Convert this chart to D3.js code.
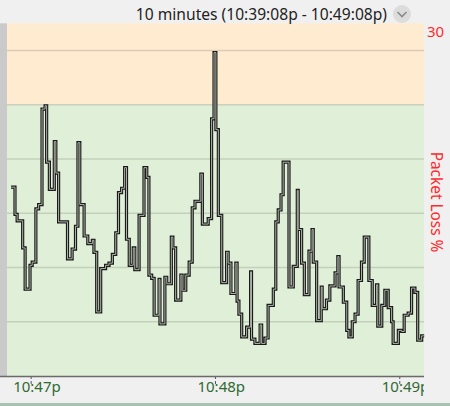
<!DOCTYPE html>
<html lang="en">
<head>
  <meta charset="UTF-8">
  <title>Packet Loss</title>
  <style>
    body {
      margin: 0;
      background: #f0f0f0;
      font-family: "Noto Sans", "Open Sans", sans-serif;
    }
  </style>
</head>
<body>

<script src="https://d3js.org/d3.v7.min.js"></script>
<script>
  // step start times, seconds from 10:47:00p
  const times = [
    -6.4, -5.1, -4.4, -2.6, -1.8, -0.2, 0.5, 1.7, 2.6, 3.7,
    4.7, 5.2, 6.1, 7.7, 8.2, 9.1, 12.0, 13.5, 14.6, 15.4,
    16.0, 17.4, 18.6, 20.1, 20.6, 21.5, 22.8, 24.4, 25.5, 26.6,
    27.7, 28.6, 29.6, 30.6, 31.2, 32.1, 33.4, 33.9, 35.3, 36.9,
    37.8, 38.5, 39.4, 40.2, 41.8, 42.1, 43.7, 44.3, 45.8, 46.3,
    47.2, 48.9, 49.3, 50.5, 51.6, 52.6, 53.5, 55.4, 55.9, 57.8,
    58.9, 59.7, 60.3, 61.1, 62.2, 63.8, 64.3, 65.2, 66.8, 67.2,
    67.8, 68.7, 70.3, 71.6, 71.9, 73.0, 74.7, 75.2, 76.3, 77.3,
    79.0, 79.8, 80.6, 81.5, 82.2, 84.1, 85.5, 86.8, 87.1, 88.2,
    89.1, 90.6, 91.6, 92.0, 93.1, 94.6, 94.9, 96.3, 97.4, 99.1,
    100.0, 100.4, 101.8, 102.9, 103.6, 104.7, 105.6, 106.6, 107.7, 108.6,
    110.1, 111.2, 112.6, 113.0, 114.3, 115.3, 116.4, 117.5, 118.0, 119.7,
    120.8, 121.6, 122.9, 124.0, 125.1, 126.0, 127.3, 128.1
  ];
  // packet loss %
  const loss = [
    17.4, 14.9, 14.3, 11.8, 8.0, 10.2, 10.5, 15.4, 15.8, 24.6,
    24.9, 19.7, 17.2, 21.6, 18.7, 14.2, 10.8, 11.7, 13.8, 21.5,
    15.8, 12.9, 12.2, 12.5, 11.4, 5.9, 9.9, 10.2, 10.4, 11.2,
    13.2, 16.9, 17.3, 19.2, 12.6, 10.2, 11.8, 9.8, 14.8, 19.2,
    18.3, 9.3, 9.0, 5.6, 8.9, 4.8, 9.1, 8.5, 12.8, 11.8,
    7.0, 9.3, 7.9, 9.3, 10.5, 15.5, 16.1, 18.6, 14.0, 14.5,
    23.7, 29.8, 22.7, 14.8, 8.6, 11.4, 10.4, 7.6, 10.4, 6.9,
    5.7, 3.6, 4.5, 9.6, 3.4, 3.0, 4.7, 3.0, 3.5, 6.5,
    8.0, 14.2, 15.3, 16.7, 19.7, 8.2, 10.1, 17.1, 13.5, 10.4,
    7.5, 11.5, 13.5, 10.5, 5.1, 8.2, 6.2, 7.0, 8.3, 9.5,
    11.0, 8.2, 6.8, 4.2, 3.6, 5.0, 5.7, 8.8, 10.5, 12.8,
    8.8, 6.5, 8.4, 4.6, 6.5, 7.9, 6.3, 5.0, 3.0, 4.2,
    4.1, 5.6, 5.8, 8.1, 7.7, 3.3, 3.7, 3.7
  ];
  const gridValues = [5, 10, 15, 20, 25, 30];
  const warnLevel = 25;
  const yMax = 32.5;
  const topLabel = '30';
  const titleText = '10 minutes (10:39:08p - 10:49:08p)';

  const width = 450;
  const height = 406;
  const plot = { left: 7, right: 424, top: 23.3, bottom: 376 };

  const base = new Date(2024, 0, 1, 22, 47, 0);
  const toDate = s => new Date(base.getTime() + s * 1000);
  const data = times.map((t, i) => ({ t: toDate(t), v: loss[i] }));

  const svg = d3.select('body')
    .append('svg')
    .attr('width', width)
    .attr('height', height)
    .style('display', 'block');

  const x = d3.scaleTime()
    .domain([toDate(-7.7), toDate(128.05)])
    .range([plot.left, plot.right]);

  const y = d3.scaleLinear()
    .domain([0, yMax])
    .range([plot.bottom, plot.top]);

  // zones
  svg.append('rect')
    .attr('x', plot.left).attr('y', y(yMax))
    .attr('width', plot.right - plot.left).attr('height', y(warnLevel) - y(yMax))
    .attr('fill', '#feebd0');
  svg.append('rect')
    .attr('x', plot.left).attr('y', y(warnLevel))
    .attr('width', plot.right - plot.left).attr('height', y(0) - y(warnLevel))
    .attr('fill', '#e0efd7');

  // left grey strip
  svg.append('rect')
    .attr('x', 0).attr('y', plot.top)
    .attr('width', plot.left).attr('height', plot.bottom - plot.top)
    .attr('fill', '#cacaca');

  // grid
  svg.append('g')
    .selectAll('line')
    .data(gridValues)
    .enter()
    .append('line')
    .attr('x1', plot.left).attr('x2', plot.right)
    .attr('y1', d => y(d)).attr('y2', d => y(d))
    .attr('stroke', 'rgba(0,0,0,0.13)')
    .attr('stroke-width', 1.6);

  // step line
  const line = d3.line()
    .x(d => x(d.t))
    .y(d => y(d.v))
    .curve(d3.curveStepAfter);

  svg.append('path')
    .datum(data)
    .attr('d', line)
    .attr('fill', 'none')
    .attr('stroke', '#1a1a1a')
    .attr('stroke-width', 3.2);
  svg.append('path')
    .datum(data)
    .attr('d', line)
    .attr('fill', 'none')
    .attr('stroke', '#bcc4b5')
    .attr('stroke-width', 0.9);

  // x axis
  svg.append('clipPath').attr('id', 'axclip')
    .append('rect').attr('x', 0).attr('y', -2)
    .attr('width', plot.right).attr('height', 30);

  const fmt = d3.timeFormat('%-I:%M');
  const xAxis = d3.axisBottom(x)
    .ticks(d3.timeMinute.every(1))
    .tickSize(9)
    .tickFormat(d => fmt(d) + 'p');

  const gx = svg.append('g')
    .attr('transform', 'translate(0,' + plot.bottom + ')')
    .attr('clip-path', 'url(#axclip)')
    .call(xAxis);
  gx.select('.domain').remove();
  gx.selectAll('.tick line')
    .attr('stroke', '#555')
    .attr('stroke-dasharray', '3,2');
  gx.selectAll('.tick text')
    .attr('text-anchor', 'start')
    .attr('dx', -18)
    .attr('y', 5)
    .attr('fill', '#2f6a30')
    .style('font-size', '15px')
    .style('font-family', '"Noto Sans", sans-serif');

  svg.append('line')
    .attr('x1', 0).attr('x2', plot.right)
    .attr('y1', plot.bottom + 0.5).attr('y2', plot.bottom + 0.5)
    .attr('stroke', '#6a6a6a')
    .attr('stroke-width', 1.5);

  // bottom strip
  svg.append('rect')
    .attr('x', 0).attr('y', 403)
    .attr('width', width).attr('height', 3)
    .attr('fill', '#a9c3b2');

  // title
  svg.append('text')
    .attr('x', 387).attr('y', 19.5)
    .attr('text-anchor', 'end')
    .attr('fill', '#222')
    .style('font-size', '15.6px')
    .text(titleText);

  svg.append('circle')
    .attr('cx', 402).attr('cy', 14).attr('r', 9)
    .attr('fill', '#dcdcdc');
  svg.append('path')
    .attr('d', 'M397.5,12 L402,16.5 L406.5,12')
    .attr('fill', 'none')
    .attr('stroke', '#8a8a8a')
    .attr('stroke-width', 1.6);

  // right axis labels
  svg.append('text')
    .attr('x', 427).attr('y', 37)
    .attr('fill', '#ff2a2a')
    .style('font-size', '15px')
    .text(topLabel);

  svg.append('text')
    .attr('transform', 'translate(431,202) rotate(90)')
    .attr('text-anchor', 'middle')
    .attr('fill', '#ff2a2a')
    .style('font-size', '15.4px')
    .text('Packet Loss %');
</script>

</body>
</html>
